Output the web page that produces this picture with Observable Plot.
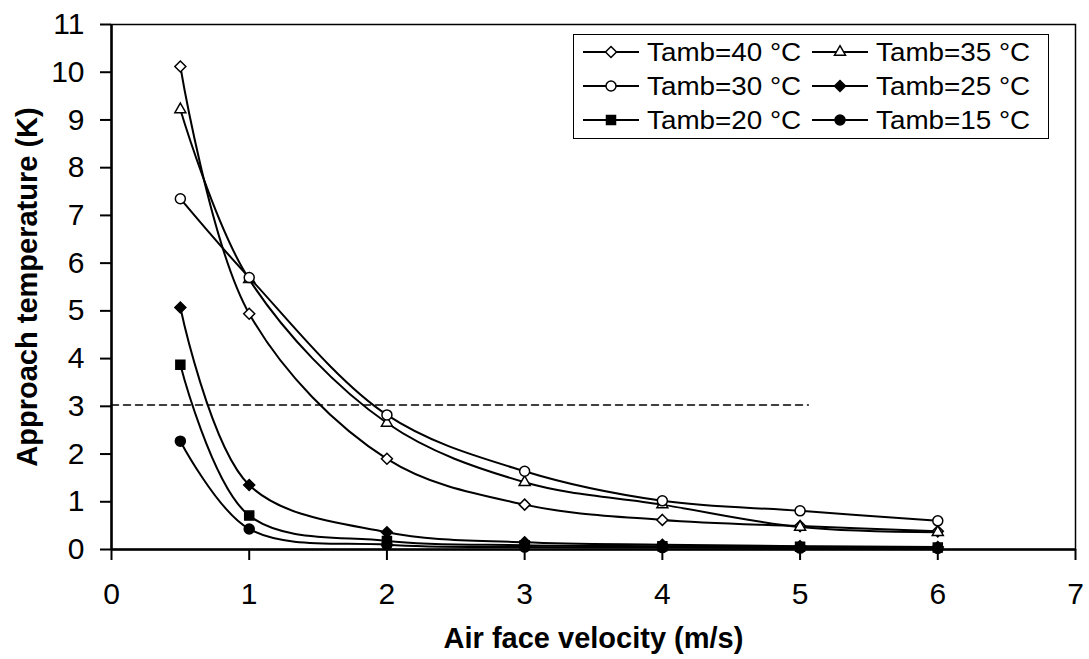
<!DOCTYPE html>
<html><head><meta charset="utf-8">
<script src="https://cdn.jsdelivr.net/npm/d3@7"></script>
<script src="https://cdn.jsdelivr.net/npm/@observablehq/plot@0.6"></script>
<style>
body{margin:0;background:#fff;}
#wrap{position:relative;width:1089px;height:659px;font-family:"Liberation Sans",Arial,sans-serif;}
#legend{position:absolute;left:573px;top:34px;width:476px;height:105px;border:1.5px solid #000;background:#fff;box-sizing:border-box;
  display:grid;grid-template-columns:229px auto;grid-auto-rows:34px;padding:0 0 0 9px;align-items:center;font-size:26px;color:#000;}
.item{display:flex;align-items:center;white-space:nowrap;}
.item svg{margin-right:8px;flex:none;}
.item span{display:inline-block;transform:scaleX(1.07);transform-origin:left center;}
</style></head><body><div id="wrap"></div>
<script>
// ---- data ----
const velocity = [0.5, 1, 2, 3, 4, 5, 6];
const seriesNames = ["Tamb=40 °C", "Tamb=35 °C", "Tamb=30 °C", "Tamb=25 °C", "Tamb=20 °C", "Tamb=15 °C"];
const t40 = [10.12, 4.94, 1.90, 0.94, 0.62, 0.49, 0.38];
const t35 = [9.22, 5.66, 2.65, 1.41, 0.94, 0.47, 0.36];
const t30 = [7.35, 5.70, 2.82, 1.64, 1.02, 0.81, 0.60];
const t25 = [5.07, 1.35, 0.36, 0.15, 0.10, 0.07, 0.05];
const t20 = [3.87, 0.71, 0.18, 0.09, 0.07, 0.06, 0.04];
const t15 = [2.27, 0.43, 0.10, 0.05, 0.04, 0.03, 0.02];
const seriesValues = [t40, t35, t30, t25, t20, t15];
const symbols = ["diamond2", "triangle2", "circle", "diamond2", "square", "circle"];
const fills = ["white", "white", "white", "black", "black", "black"];
const radii = [4.95, 5.25, 5, 4.95, 5.08, 5];
const thresholdY = 3.03;
const thresholdX = [0, 5.06];
const xTicks = [0, 1, 2, 3, 4, 5, 6, 7];
const yTicks = [0, 1, 2, 3, 4, 5, 6, 7, 8, 9, 10, 11];
const xLabel = "Air face velocity (m/s)";
const yLabel = "Approach temperature (K)";

const font = '"Liberation Sans", Arial, sans-serif';

const marks = [];
marks.push(Plot.line(thresholdX.map(x => ({x, y: thresholdY})), {x: "x", y: "y", stroke: "black", strokeWidth: 1.5, strokeDasharray: "7,5"}));
seriesNames.forEach((name, i) => {
  const rows = velocity.map((v, j) => ({v, t: seriesValues[i][j], name}));
  marks.push(Plot.line(rows, {x: "v", y: "t", curve: "catmull-rom", stroke: "black", strokeWidth: 2}));
  marks.push(Plot.dot(rows, {x: "v", y: "t", symbol: symbols[i], r: radii[i], fill: fills[i], stroke: "black", strokeWidth: 1.5}));
});
marks.push(Plot.frame({stroke: "black", strokeWidth: 1.5}));
marks.push(Plot.ruleY([0], {stroke: "black", strokeWidth: 2.5}));
marks.push(Plot.ruleX([0], {stroke: "black", strokeWidth: 2.5}));
marks.push(Plot.axisX({ticks: xTicks, tickSize: 11, tickPadding: 22, tickFormat: d => String(d), label: null, fontSize: 30, strokeWidth: 2}));
marks.push(Plot.axisY({ticks: yTicks, tickSize: 11, tickPadding: 16, tickFormat: d => String(d), label: null, fontSize: 30, strokeWidth: 2}));
marks.push(Plot.text([xLabel], {frameAnchor: "bottom", dy: 98, lineAnchor: "bottom", fontWeight: "bold", fontSize: 29, text: d => d}));
marks.push(Plot.text([yLabel], {frameAnchor: "left", dx: -95, rotate: -90, lineAnchor: "top", textAnchor: "middle", fontWeight: "bold", fontSize: 29, text: d => d}));

const chart = Plot.plot({
  width: 1089, height: 659,
  marginLeft: 111, marginRight: 14, marginTop: 24, marginBottom: 110,
  x: {domain: [0, 7]},
  y: {domain: [0, 11]},
  style: {fontFamily: font, color: "black", background: "white", overflow: "visible"},
  marks
});
const wrap = document.getElementById("wrap");
wrap.appendChild(chart);

// ---- legend ----
const symMap = {diamond2: d3.symbolDiamond2, triangle2: d3.symbolTriangle2, circle: d3.symbolCircle, square: d3.symbolSquare};
const legend = document.createElement("div");
legend.id = "legend";
seriesNames.forEach((name, i) => {
  const item = document.createElement("div");
  item.className = "item";
  const svg = d3.create("svg").attr("width", 56).attr("height", 20);
  svg.append("line").attr("x1", 0).attr("x2", 56).attr("y1", 10).attr("y2", 10).attr("stroke", "black").attr("stroke-width", 2);
  svg.append("path").attr("transform", "translate(28,10)")
    .attr("d", d3.symbol(symMap[symbols[i]], radii[i] * radii[i] * Math.PI)())
    .attr("fill", fills[i]).attr("stroke", "black").attr("stroke-width", 1.5);
  item.appendChild(svg.node());
  const span = document.createElement("span");
  span.textContent = name;
  item.appendChild(span);
  legend.appendChild(item);
});
wrap.appendChild(legend);
</script>
</body></html>
